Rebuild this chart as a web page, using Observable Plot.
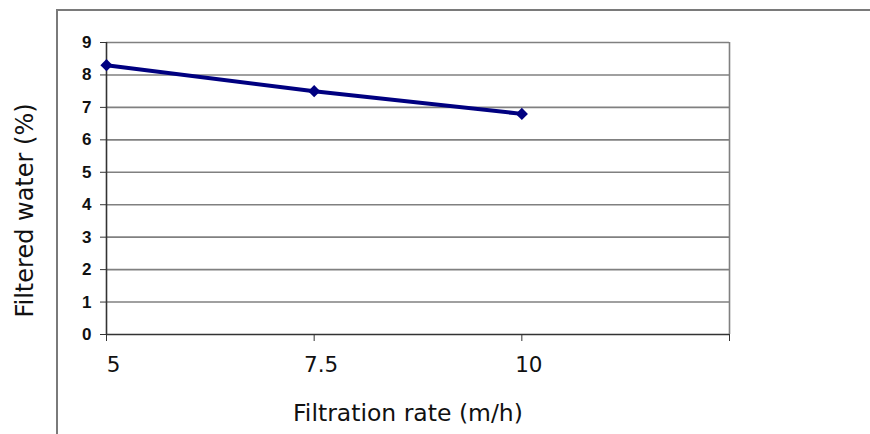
<!DOCTYPE html>
<html><head>
<meta charset="utf-8">
<script src="https://cdn.jsdelivr.net/npm/d3@7"></script>
<script src="https://cdn.jsdelivr.net/npm/@observablehq/plot@0.6"></script>
<style>
body{margin:0;background:#fff}
#wrap{position:relative;width:870px;height:434px;overflow:hidden}
#frame{position:absolute;left:56px;top:9px;right:-4px;bottom:-4px;border-left:2px solid #7a7a7a;border-top:2px solid #7a7a7a;pointer-events:none}
</style></head><body><div id="wrap"><div id="frame"></div></div>
<script>
const rates = [5, 7.5, 10];
const filtered = [8.3, 7.5, 6.8];
const xTicks = [5, 7.5, 10, 12.5];
const xTickLabels = ["5", "7.5", "10", ""];
const yTicks = [0, 1, 2, 3, 4, 5, 6, 7, 8, 9];
const xLabel = "Filtration rate (m/h)";
const yLabel = "Filtered water (%)";

const data = rates.map((r, i) => ({rate: r, value: filtered[i]}));

const chart = Plot.plot({
  width: 870, height: 434,
  marginLeft: 106, marginRight: 141, marginTop: 42, marginBottom: 100,
  x: {domain: [5, 12.5]},
  y: {domain: [0, 9]},
  style: {fontFamily: "DejaVu Sans", fontSize: "21px", color: "#111", background: "transparent"},
  marks: [
    Plot.gridY(yTicks.filter(d => d > 0), {stroke: "#808080", strokeOpacity: 1, strokeWidth: 1.6}),
    Plot.ruleX([12.5], {stroke: "#808080", strokeWidth: 1.6}),
    Plot.axisY(yTicks, {tickSize: 6, stroke: "#333", tickFormat: () => "", label: null}),
    Plot.text(yTicks, {y: d => d, text: d => String(d), frameAnchor: "left", dx: -15, textAnchor: "end", lineAnchor: "middle", fontFamily: "Liberation Sans, Arial, sans-serif", fontSize: 17, fontWeight: "bold", fill: "#111"}),
    Plot.axisX(xTicks, {tickSize: 7, stroke: "#333", tickFormat: () => "", label: null}),
    Plot.axisX(xTicks, {tickSize: 0, tickPadding: 22, dx: 7, fontSize: 21.5, tickFormat: d => xTickLabels[xTicks.indexOf(d)], label: null}),
    Plot.ruleX([5], {stroke: "#333", strokeWidth: 1.6}),
    Plot.ruleY([0], {stroke: "#333", strokeWidth: 1.6}),
    Plot.line(data, {x: "rate", y: "value", stroke: "#000080", strokeWidth: 4}),
    Plot.dot(data, {x: "rate", y: "value", symbol: "diamond2", r: 5.5, fill: "#000080", stroke: "none"}),
    Plot.text([yLabel], {text: d => d, frameAnchor: "left", dx: -74, dy: 22, rotate: -90, fontSize: 24, lineAnchor: "bottom", textAnchor: "middle", fill: "#111"}),
    Plot.text([xLabel], {text: d => d, frameAnchor: "bottom", dx: -10, dy: 86, fontSize: 23.5, lineAnchor: "bottom", textAnchor: "middle", fill: "#111"})
  ]
});
document.getElementById("wrap").prepend(chart);
</script>
</body></html>
